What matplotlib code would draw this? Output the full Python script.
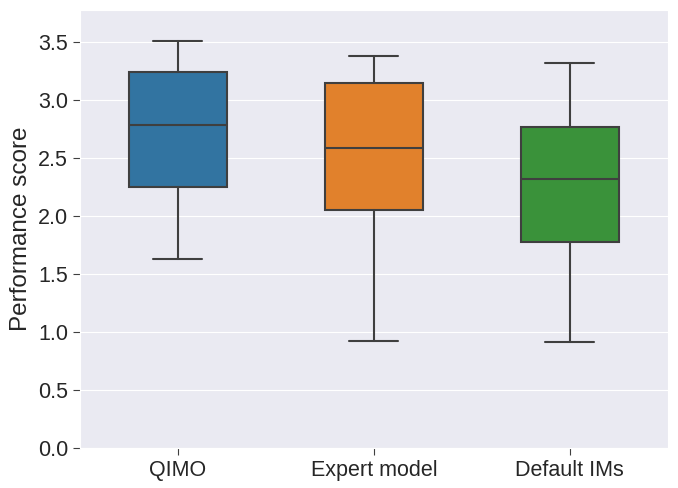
import matplotlib
matplotlib.use('Agg')
import matplotlib.pyplot as plt
import seaborn as sns

# summary values
models = ['QIMO', 'Expert model', 'Default IMs']
whisker_low = [1.63, 0.92, 0.91]
q1 = [2.25, 2.05, 1.78]
median = [2.79, 2.59, 2.32]
q3 = [3.24, 3.15, 2.77]
whisker_high = [3.51, 3.38, 3.32]
colors = ['#3274a1', '#e1812c', '#3a923a']

sns.set_style('darkgrid')
plt.rcParams['font.family'] = ['Liberation Sans', 'DejaVu Sans']
plt.rcParams['xtick.bottom'] = True
plt.rcParams['ytick.left'] = True

stats = []
for i, name in enumerate(models):
    stats.append({'label': name, 'whislo': whisker_low[i], 'q1': q1[i],
                  'med': median[i], 'q3': q3[i], 'whishi': whisker_high[i],
                  'fliers': []})

fig, ax = plt.subplots(figsize=(6.78, 4.88), dpi=100)
line_kw = dict(color='#3f3f3f', linewidth=1.5)
bp = ax.bxp(stats, positions=range(len(models)), widths=0.5,
            patch_artist=True, showfliers=False,
            boxprops=dict(edgecolor='#3f3f3f', linewidth=1.5),
            medianprops=line_kw, whiskerprops=line_kw, capprops=line_kw)
for patch, c in zip(bp['boxes'], colors):
    patch.set_facecolor(c)

ax.set_xlim(-0.5, 2.5)
ax.set_ylim(0, 3.78)
ax.set_yticks([0, 0.5, 1.0, 1.5, 2.0, 2.5, 3.0, 3.5])
ax.set_xticks(range(len(models)))
ax.set_xticklabels(models)
ax.tick_params(axis='both', labelsize=15.5, length=5, color='#3f3f3f',
               labelcolor='#262626')
ax.set_ylabel('Performance score', fontsize=17.5, color='#262626')
ax.grid(axis='x', visible=False)

fig.subplots_adjust(left=0.118, right=0.985, top=0.98, bottom=0.082)
fig.savefig('out.png', dpi=100)
